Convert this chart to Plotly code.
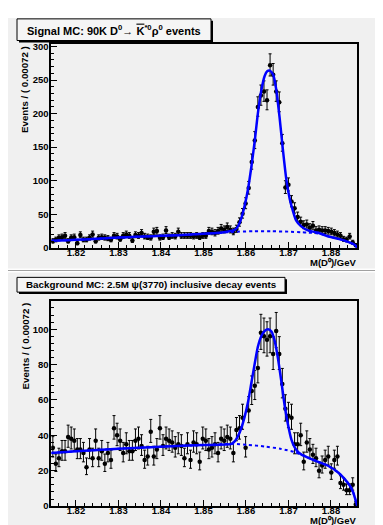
import numpy as np
import plotly.graph_objects as go

W, H = 383, 525

# ---------------- data ----------------
x_lo, x_hi, bin_w = 1.8142, 1.8862, 0.00072
n_bins = 100

signal_counts = [10, 12, 15, 16, 18, 10, 15, 16, 7, 19,
                 12, 12, 15, 20, 10, 15, 16, 15, 14, 12,
                 18, 17, 13, 18, 20, 18, 11, 19, 18, 22,
                 17, 16, 15, 24, 25, 15, 16, 26, 16, 18,
                 17, 24, 18, 18, 18, 18, 17, 18, 16, 18,
                 18, 25, 24, 22, 25, 29, 27, 31, 27, 24,
                 28, 38, 51, 66, 89, 128, 160, 210, 227, 233,
                 220, 272, 258, 233, 217, 156, 90, 94, 69, 59,
                 46, 39, 34, 35, 30, 33, 26, 27, 26, 26,
                 25, 24, 22, 20, 18, 13, 12, 17, 8, 4]

bkg_counts = [33, 24, 27, 31, 31, 39, 38, 37, 32, 32,
              30, 22, 32, 27, 37, 27, 31, 24, 30, 26,
              44, 40, 37, 30, 35, 31, 31, 37, 38, 34,
              26, 28, 42, 28, 32, 44, 34, 38, 37, 36,
              33, 35, 34, 27, 35, 26, 36, 35, 25, 38,
              37, 32, 33, 35, 30, 38, 37, 39, 38, 30,
              43, 44, 50, 33, 54, 65, 68, 78, 98, 96,
              94, 96, 86, 99, 86, 69, 55, 51, 50, 35,
              35, 40, 25, 36, 32, 29, 27, 20, 23, 26,
              28, 19, 26, 28, 13, 12, 9, 9, 12, 1]

# fitted curves (x in GeV, y in events/bin)
sig_tot_x = [1.8142, 1.8180, 1.8220, 1.8260, 1.8300, 1.8340, 1.8380, 1.8420, 1.8460,
             1.8500, 1.8530, 1.8555, 1.8574, 1.8581, 1.8589, 1.8597, 1.8605, 1.8613,
             1.8621, 1.8628, 1.8636, 1.8644, 1.8650, 1.8656, 1.8664, 1.8671, 1.8679,
             1.8687, 1.8695, 1.8703, 1.8711, 1.8718, 1.8730, 1.8746, 1.8770, 1.8795,
             1.8820, 1.8840, 1.8852, 1.8858, 1.8862]
sig_tot_y = [10.5, 11.5, 12.5, 14.0, 15.3, 16.5, 17.5, 18.5, 19.5,
             21.0, 22.0, 24.0, 27.0, 32.0, 44.0, 63.0, 88.0, 122.0,
             161.0, 200.0, 234.0, 256.0, 263.0, 264.0, 258.0, 237.0, 195.0,
             146.0, 102.0, 73.0, 54.0, 41.0, 32.0, 26.0, 22.5, 17.0,
             13.0, 9.0, 6.0, 3.5, 0.0]
sig_bkg_x = [1.8142, 1.8180, 1.8220, 1.8260, 1.8300, 1.8340, 1.8380, 1.8420, 1.8460,
             1.8500, 1.8530, 1.8555, 1.8580, 1.8620, 1.8660, 1.8700, 1.8730, 1.8746,
             1.8770, 1.8795, 1.8820, 1.8840, 1.8852, 1.8858, 1.8862]
sig_bkg_y = [10.5, 11.5, 12.5, 14.0, 15.3, 16.5, 17.5, 18.5, 19.5,
             21.0, 22.0, 23.3, 24.2, 24.8, 24.8, 24.2, 23.3, 22.8,
             21.5, 17.0, 13.0, 9.0, 6.0, 3.5, 0.0]

bkg_tot_x = [1.8142, 1.8200, 1.8300, 1.8400, 1.8500, 1.8566, 1.8574, 1.8581, 1.8589,
             1.8597, 1.8605, 1.8613, 1.8621, 1.8628, 1.8636, 1.8644, 1.8652, 1.8660,
             1.8668, 1.8675, 1.8683, 1.8691, 1.8699, 1.8707, 1.8715, 1.8723, 1.8730,
             1.8746, 1.8770, 1.8793, 1.8817, 1.8832, 1.8844, 1.8852, 1.8858, 1.8862]
bkg_tot_y = [30.0, 31.0, 32.4, 33.6, 34.5, 35.2, 36.7, 39.4, 44.0,
             50.6, 59.0, 70.0, 81.0, 90.0, 96.0, 99.0, 100.0, 98.7,
             93.0, 84.0, 71.0, 57.0, 46.0, 37.6, 33.0, 30.5, 29.2,
             27.4, 25.0, 22.8, 19.0, 15.4, 11.7, 8.0, 3.3, 0.0]
bkg_bkg_x = [1.8142, 1.8200, 1.8300, 1.8400, 1.8500, 1.8566, 1.8605, 1.8644, 1.8683,
             1.8715, 1.8730, 1.8746, 1.8770, 1.8793, 1.8817, 1.8832, 1.8844, 1.8852,
             1.8858, 1.8862]
bkg_bkg_y = [30.0, 31.0, 32.4, 33.6, 34.5, 35.2, 34.6, 33.7, 32.3,
             30.5, 29.2, 27.4, 25.0, 22.8, 19.0, 15.4, 11.7, 8.0,
             3.3, 0.0]

x_ticks = [1.82, 1.83, 1.84, 1.85, 1.86, 1.87, 1.88]
top_title = ("Signal MC: 90K D<sup>0</sup>\u2192 "
             "<span style='text-decoration:overline'>K</span><sup>*0</sup>"
             "\u03c1<sup>0</sup> events")
bot_title = "Background MC: 2.5M \u03c8(3770) inclusive decay events"
y_title = "Events / ( 0.00072 )"
x_title = "M(D\u2070)/GeV"

# ---------------- helpers ----------------
def px(x):
    return x / W

def py(y):
    return 1 - y / H

centers = x_lo + bin_w * (np.arange(n_bins) + 0.5)

def pois_err(counts):
    c = np.asarray(counts, dtype=float)
    s = np.sqrt(c + 0.25)
    return s + 0.5, s - 0.5

FONT = "Liberation Sans, Arial, sans-serif"
BLUE = "#0000ff"
PAD = "#f0f0f0"

fig = go.Figure()

panels = [
    dict(counts=signal_counts, tx=sig_tot_x, ty=sig_tot_y, bx=sig_bkg_x, by=sig_bkg_y,
         xa="x", ya="y", yr=[0, 303]),
    dict(counts=bkg_counts, tx=bkg_tot_x, ty=bkg_tot_y, bx=bkg_bkg_x, by=bkg_bkg_y,
         xa="x2", ya="y2", yr=[0, 115.8]),
]

for p in panels:
    hi, lo = pois_err(p["counts"])
    fig.add_trace(go.Scatter(
        x=centers, y=p["counts"], mode="markers", xaxis=p["xa"], yaxis=p["ya"],
        marker=dict(color="black", size=4.5, symbol="circle"),
        error_y=dict(type="data", array=hi, arrayminus=lo, color="black", thickness=1, width=1.5),
        error_x=dict(type="constant", value=bin_w / 2, color="black", thickness=1, width=0),
        showlegend=False, hoverinfo="skip"))
    fig.add_trace(go.Scatter(
        x=p["bx"], y=p["by"], mode="lines", xaxis=p["xa"], yaxis=p["ya"],
        line=dict(color=BLUE, width=2, dash="dot", shape="spline", smoothing=0.6),
        showlegend=False, hoverinfo="skip"))
    fig.add_trace(go.Scatter(
        x=p["tx"], y=p["ty"], mode="lines", xaxis=p["xa"], yaxis=p["ya"],
        line=dict(color=BLUE, width=2.5, shape="spline", smoothing=0.6),
        showlegend=False, hoverinfo="skip"))

frame_l, frame_r = 43.3, 349.3
top_frame = (33, 240)
bot_frame = (294.3, 502.7)

axis_common = dict(
    showgrid=False, zeroline=False, showline=True, linecolor="black", linewidth=1.5,
    mirror=True, ticks="inside", ticklen=6, tickwidth=1, tickcolor="black",
    tickfont=dict(family=FONT, size=9.5, color="black", weight="bold"),
)

xaxis_common = dict(axis_common, range=[x_lo, x_hi], tickvals=x_ticks, tickformat=".2f",
                    ticklabelstandoff=-5,
                    minor=dict(dtick=0.002, tick0=1.82, ticks="inside", ticklen=3,
                               tickcolor="black", tickwidth=1))

fig.update_layout(
    width=W, height=H, margin=dict(l=0, r=0, t=0, b=0),
    paper_bgcolor="white", plot_bgcolor=PAD,
    xaxis=dict(xaxis_common, domain=[px(frame_l), px(frame_r)], anchor="y"),
    yaxis=dict(axis_common, domain=[py(top_frame[1]), py(top_frame[0])], anchor="x",
               range=panels[0]["yr"], dtick=50, tick0=0, ticklabelstandoff=-1,
               minor=dict(dtick=10, ticks="inside", ticklen=3, tickcolor="black", tickwidth=1)),
    xaxis2=dict(xaxis_common, domain=[px(frame_l), px(frame_r)], anchor="y2"),
    yaxis2=dict(axis_common, domain=[py(bot_frame[1]), py(bot_frame[0])], anchor="x2",
                range=panels[1]["yr"], dtick=20, tick0=0, ticklabelstandoff=-1,
                minor=dict(dtick=4, ticks="inside", ticklen=3, tickcolor="black", tickwidth=1)),
)

shapes = []
# pads
shapes.append(dict(type="rect", xref="paper", yref="paper", x0=px(0), x1=px(377),
                   y0=py(261), y1=py(6), fillcolor=PAD, line=dict(width=0), layer="below"))
shapes.append(dict(type="rect", xref="paper", yref="paper", x0=px(0), x1=px(377),
                   y0=py(524), y1=py(265), fillcolor=PAD, line=dict(width=0), layer="below"))
shapes.append(dict(type="line", xref="paper", yref="paper", x0=px(0), x1=px(377),
                   y0=py(263), y1=py(263), line=dict(color="#a0a0a0", width=1)))

def title_box(x0, y0, x1, y1):
    # shadow
    shapes.append(dict(type="rect", xref="paper", yref="paper", x0=px(x0 + 2), x1=px(x1 + 2),
                       y0=py(y1 + 2), y1=py(y0 + 2), fillcolor="black", line=dict(width=0)))
    shapes.append(dict(type="rect", xref="paper", yref="paper", x0=px(x0), x1=px(x1),
                       y0=py(y1), y1=py(y0), fillcolor="#f5f5f5",
                       line=dict(color="black", width=1)))

title_box(9, 7, 203, 29)
title_box(9, 270, 277, 285)
fig.update_layout(shapes=shapes)

ann = []
ann.append(dict(text=top_title, x=px(106), y=py(18.5), xref="paper", yref="paper",
                showarrow=False, xanchor="center", yanchor="middle",
                font=dict(family=FONT, size=11, color="black", weight="bold")))
ann.append(dict(text=bot_title, x=px(143), y=py(277.5), xref="paper", yref="paper",
                showarrow=False, xanchor="center", yanchor="middle",
                font=dict(family=FONT, size=9.8, color="black", weight="bold")))
for ytop in (33, 294):
    ann.append(dict(text=y_title, x=px(17), y=py(ytop), xref="paper", yref="paper",
                    showarrow=False, textangle=-90, xanchor="center", yanchor="top",
                    font=dict(family=FONT, size=9.7, color="black", weight="bold")))
for ybot in (263, 525):
    ann.append(dict(text=x_title, x=px(350), y=py(ybot), xref="paper", yref="paper",
                    showarrow=False, xanchor="right", yanchor="bottom",
                    font=dict(family=FONT, size=9.5, color="black", weight="bold")))
fig.update_layout(annotations=ann)

fig.write_html("out.html")
